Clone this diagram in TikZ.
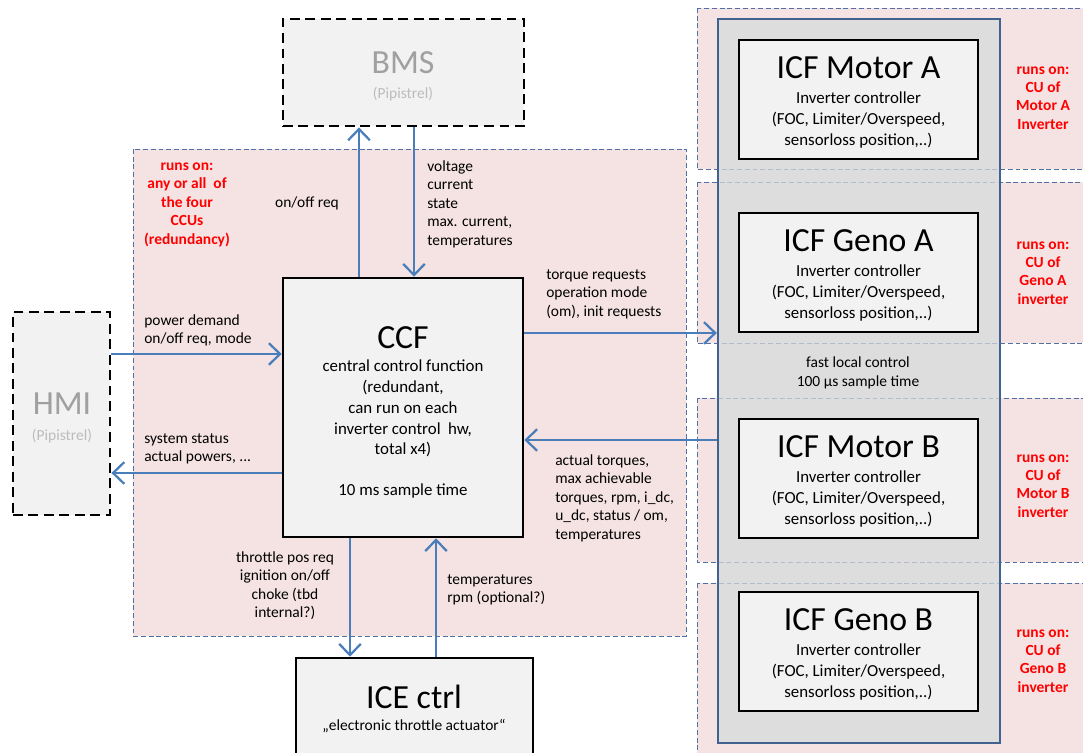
\documentclass[tikz,border=0pt]{standalone}
\usepackage{fontspec}
\setmainfont{Carlito}
\usetikzlibrary{arrows.meta,positioning}

\definecolor{pinkbg}{RGB}{245,227,227}
\definecolor{regionblue}{RGB}{79,113,165}
\definecolor{flowblue}{RGB}{74,126,187}
\definecolor{boxgray}{RGB}{242,242,242}
\definecolor{groupgray}{RGB}{221,221,221}
\definecolor{groupedge}{RGB}{65,98,145}
\definecolor{extgray}{RGB}{160,160,160}
\definecolor{runsred}{RGB}{255,0,0}

\tikzset{
  region/.style={fill=pinkbg, draw=regionblue, dash pattern=on 3.5pt off 2pt, line width=0.6pt},
  funcbox/.style={draw=black, line width=1.8pt, fill=boxgray, inner sep=0pt},
  extbox/.style={draw=black, line width=2pt, dash pattern=on 7pt off 4pt, fill=boxgray, inner sep=0pt},
  flow/.style={draw=flowblue, line width=1.6pt, -{Straight Barb[length=2.8mm,width=5.4mm]}},
  bigtitle/.style={font=\fontsize{24}{28}\selectfont, inner sep=0pt},
  desc/.style={font=\fontsize{12}{15}\selectfont, align=center, inner sep=0pt},
  sig/.style={font=\fontsize{11}{13.1}\selectfont, align=left, anchor=north west, inner sep=0pt},
  runson/.style={font=\fontsize{11}{13.1}\selectfont\bfseries, text=runsred, align=center, inner sep=0pt},
}

\begin{document}
\begin{tikzpicture}[x=0.025cm, y=-0.025cm]
\useasboundingbox (0,0) rectangle (1083,753);
\clip (0,0) rectangle (1083,753);

% regions the functions run on
\draw[region] (133,149) rectangle (686,636);
\foreach \ya/\yb in {8/169, 182/343, 398/562, 583/790}
  \draw[region] (697,\ya) rectangle (1095,\yb);

% group of the inverter control functions
\node[draw=groupedge, line width=1.6pt, fill=groupgray, minimum width=7.05cm, minimum height=18.1cm] (icfgroup) at (859,381) {};
\foreach \ya/\yb in {8/169, 182/343, 398/562, 583/790}
  \draw[draw=regionblue, dash pattern=on 3.5pt off 2pt, line width=0.6pt, opacity=0.3] (697,\ya) rectangle (1095,\yb);
\node[desc, font=\fontsize{11}{13.1}\selectfont] (fastctl) at (858,373) {fast local control\\100 µs sample time};

\foreach \nm/\ttl/\top/\cuy/\inv in {mota/Motor A/40/98/Inverter, genoa/Geno A/213/273/inverter, motb/Motor B/419/486/inverter, genob/Geno B/592/661/inverter}{
  \node[funcbox, minimum width=5.975cm, minimum height=2.975cm] (\nm) at (858.5,{\top+59.5}) {};
  \node[bigtitle] (\nm-title) at (858.5,{\top+28}) {ICF \ttl};
  \node[desc] (\nm-desc) at (858.5,{\top+80}) {Inverter controller\\(FOC, Limiter/Overspeed,\\sensorloss position,..)};
  \node[runson] (\nm-cu) at (1043,\cuy) {runs on:\\CU of\\\ttl\\\inv};
}

% external systems
\node[extbox, minimum width=6.025cm, minimum height=2.675cm] (bms) at (403.5,72.5) {};
\node[bigtitle, text=extgray] (bms-title) at (403,63) {BMS};
\node[font=\fontsize{11}{13}\selectfont, text=extgray!70, inner sep=0pt] (bms-sub) at (403,94) {(Pipistrel)};
\node[extbox, minimum width=2.425cm, minimum height=5.075cm] (hmi) at (61.5,413.5) {};
\node[bigtitle, text=extgray] (hmi-title) at (62,404) {HMI};
\node[font=\fontsize{11}{13}\selectfont, text=extgray!70, inner sep=0pt] (hmi-sub) at (62,436) {(Pipistrel)};

% central control function
\node[funcbox, minimum width=6.0cm, minimum height=6.475cm] (ccf) at (403,407.5) {};
\node[bigtitle] (ccf-title) at (403,338) {CCF};
\node[desc, font=\fontsize{12}{14.7}\selectfont, anchor=north] (ccf-desc) at (403,360) {central control function\\(redundant,\\can run on each\\inverter control\ \ hw,\\total x4)};
\node[desc] (ccf-time) at (403,491) {10 ms sample time};
\node[runson, anchor=north] (ccf-cu) at (187,162.5) {runs on:\\any or all\ \ of\\the four\\CCUs\\(redundancy)};

% engine control
\node[funcbox, minimum width=5.925cm, minimum height=3.3cm] (ice) at (414.5,724) {};
\node[bigtitle] (ice-title) at (414,697) {ICE ctrl};
\node[font=\fontsize{11}{13}\selectfont, inner sep=0pt] (ice-sub) at (414,726) {„electronic throttle actuator“};

% signal flows
\coordinate (bmsup) at (359,0);
\coordinate (bmsdown) at (414,0);
\coordinate (hmiin) at (0,354);
\coordinate (hmiout) at (0,473);
\coordinate (icfin) at (0,333);
\coordinate (icfout) at (0,440);
\coordinate (icedown) at (350,0);
\coordinate (iceup) at (436,0);
\draw[flow] (ccf.north -| bmsup) -- (bms.south -| bmsup);
\draw[flow] (bms.south -| bmsdown) -- (ccf.north -| bmsdown);
\draw[flow] (hmi.east |- hmiin) -- (ccf.west |- hmiin);
\draw[flow] (ccf.west |- hmiout) -- (hmi.east |- hmiout);
\draw[flow] (ccf.east |- icfin) -- (icfgroup.west |- icfin);
\draw[flow] (icfgroup.west |- icfout) -- (ccf.east |- icfout);
\draw[flow] (ccf.south -| icedown) -- (ice.north -| icedown);
\draw[flow] (ice.north -| iceup) -- (ccf.south -| iceup);

% signal labels
\node[sig, anchor=center] (onoff) at (307,203) {on/off req};
\node[sig] (bmsdata) at (427,160.5) {voltage\\current\\state\\max. current,\\temperatures};
\node[sig] (hmidemand) at (144,314.5) {power demand\\on/off req, mode};
\node[sig] (hmistatus) at (144,433.5) {system status\\actual powers, ...};
\node[sig] (icfreq) at (546,269.5) {torque requests\\operation mode\\(om), init requests};
\node[sig] (icfact) at (555,454.5) {actual torques,\\max achievable\\torques, rpm, i\_dc,\\u\_dc, status / om,\\temperatures};
\node[sig, align=center, anchor=north] (icereq) at (285,551.5) {throttle pos req\\ignition on/off\\choke (tbd\\internal?)};
\node[sig] (icedata) at (447,574.5) {temperatures\\rpm (optional?)};
\end{tikzpicture}
\end{document}
